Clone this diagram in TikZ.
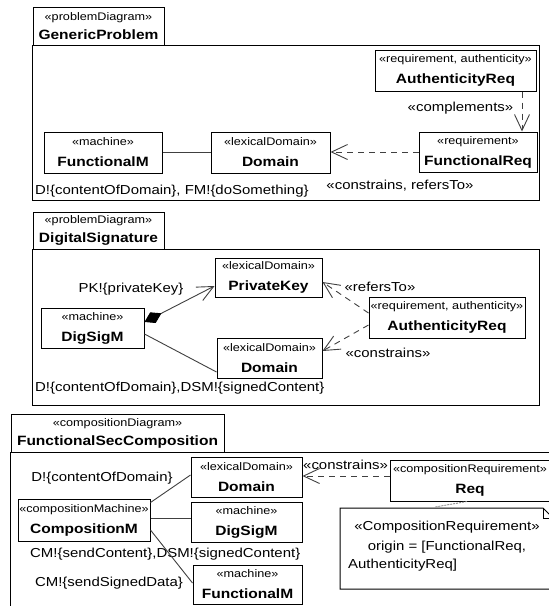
\documentclass[tikz,border=0pt]{standalone}
\usepackage{fontspec}
\setmainfont{Liberation Sans}[FakeStretch=1.15]
\usetikzlibrary{arrows.meta, positioning}

\newcommand{\uml}[2]{«#1»\\{\fontsize{13.5}{16}\selectfont\bfseries #2}}

\begin{document}
\begin{tikzpicture}[x=1pt, y=-1pt,
    box/.style={draw, fill=white, line width=1pt, minimum height=40pt, inner sep=1pt, align=center, font=\fontsize{11}{21}\selectfont},
    tab/.style={box, minimum height=38pt, font=\fontsize{11}{19}\selectfont},
    lbl/.style={inner sep=0pt, font=\fontsize{13}{15}\selectfont},
    assoc/.style={draw=black!75, line width=0.9pt},
    dep/.style={draw=black!75, line width=0.9pt, dash pattern=on 6pt off 5pt, -{Straight Barb[length=16pt, width=15pt]}}]
  \useasboundingbox (0,0) rectangle (549,606);
  \clip (0,0) rectangle (549,606);
  \fill[white] (0,0) rectangle (549,606);

  % GenericProblem
  \draw (98.5,26) node[tab, minimum width=131pt] (tab1) {\uml{problemDiagram}{GenericProblem}};
  \draw[line width=1pt] (tab1.south west) rectangle (539,200);
  \draw (455.5,70.5) node[box, minimum width=161pt, minimum height=41pt] (auth1) {\uml{requirement, authenticity}{AuthenticityReq}};
  \draw (478,152) node[box, minimum width=118pt] (freq) {\uml{requirement}{FunctionalReq}};
  \draw (270.5,152.5) node[box, minimum width=119pt, minimum height=41pt] (dom1) {\uml{lexicalDomain}{Domain}};
  \draw (103,152.5) node[box, minimum width=118pt, minimum height=41pt] (fm1) {\uml{machine}{FunctionalM}};
  \draw (35,191) node[lbl, anchor=west] (ph1) {D!\{contentOfDomain\}, FM!\{doSomething\}};
  \draw (400,186) node[lbl] (cr1) {«constrains, refersTo»};
  \draw (460.5,108) node[lbl] (cp1) {«complements»};
  \draw[dep] ([xshift=66.5pt]auth1.south) -- ([xshift=66.5pt]auth1.south |- freq.north);
  \draw[dep] (freq.west) -- (freq.west -| dom1.east);
  \draw[assoc] (fm1) -- (dom1);

  % DigitalSignature
  \draw (98.5,230.5) node[tab, minimum width=131pt, minimum height=37pt] (tab2) {\uml{problemDiagram}{DigitalSignature}};
  \draw[line width=1pt] (tab2.south west) rectangle (539,405);
  \draw (268.5,277.5) node[box, minimum width=107pt, minimum height=39pt] (pkey) {\uml{lexicalDomain}{PrivateKey}};
  \draw (92.5,328) node[box, minimum width=103pt] (dss) {\uml{machine}{DigSigM}};
  \draw (269.5,358) node[box, minimum width=105pt] (dom2) {\uml{lexicalDomain}{Domain}};
  \draw (447,317.5) node[box, minimum width=156pt, minimum height=41pt] (auth2) {\uml{requirement, authenticity}{AuthenticityReq}};
  \draw (131,289) node[lbl] (pk2) {PK!\{privateKey\}};
  \draw (380,287) node[lbl] (rf2) {«refersTo»};
  \draw (388,353) node[lbl] (cs2) {«constrains»};
  \draw (35,388) node[lbl, anchor=west] (ph2) {D!\{contentOfDomain\},DSM!\{signedContent\}};
  \draw[assoc, {Diamond[length=19pt, width=12pt, color=black]}-{Straight Barb[length=16pt, width=15pt]}] ([yshift=6pt]dss.east) -- ([yshift=-8.5pt]pkey.west);
  \draw[assoc] ([yshift=-6pt]dss.east) -- ([yshift=-14pt]dom2.west);
  \draw[dep] ([yshift=4.5pt]auth2.west) -- ([yshift=-4.5pt]pkey.east);
  \draw[dep] ([yshift=-7.5pt]auth2.west) -- ([yshift=7pt]dom2.east);

  % FunctionalSecComposition
  \draw (117.5,433) node[tab, minimum width=213pt] (tab3) {\uml{compositionDiagram}{FunctionalSecComposition}};
  \draw[line width=1pt] (tab3.south west) rectangle (600,650);
  \draw (246.5,477) node[box, minimum width=111pt] (dom3) {\uml{lexicalDomain}{Domain}};
  \draw (246.5,522) node[box, minimum width=111pt] (dss3) {\uml{machine}{DigSigM}};
  \draw (247.5,584.5) node[box, minimum width=109pt, minimum height=39pt] (fm3) {\uml{machine}{FunctionalM}};
  \draw (84,520) node[box, minimum width=132pt, minimum height=42pt] (cm) {\uml{compositionMachine}{CompositionM}};
  \draw (102,478) node[lbl] (ph3) {D!\{contentOfDomain\}};
  \draw (30,554) node[lbl, anchor=west] (ph4) {CM!\{sendContent\},DSM!\{signedContent\}};
  \draw (109,583) node[lbl] (ph5) {CM!\{sendSignedData\}};
  \draw (303,465) node[lbl, anchor=west] (cs3) {«constrains»};
  \draw (470,480.5) node[box, minimum width=160pt, minimum height=41pt] (req) {\uml{compositionRequirement}{Req}};
  \draw[assoc] ([yshift=-4pt]cm.north east) -- ([yshift=2pt]dom3.west);
  \draw[assoc] ([yshift=2pt]cm.east) -- ([yshift=2pt]cm.east -| dss3.west);
  \draw[assoc] ([yshift=-10pt]cm.east) -- ([yshift=1.5pt]fm3.west);
  \draw[dep] ([yshift=4.5pt]req.west) -- ([yshift=4.5pt]req.west -| dom3.east);

  % note
  \draw[line width=1pt, fill=white] (340,508) -- (543,508) -- (553,518) -- (553,589) -- (340,589) -- cycle;
  \draw[line width=0.8pt] (543,508) -- (543,518) -- (553,518);
  \coordinate (notetop) at (435,507);
  \draw[gray, line width=0.8pt, dash pattern=on 2pt off 1pt] ([xshift=-3pt]req.south) -- (notetop);
  \draw (447,537) node[lbl, align=center, font=\fontsize{13}{20}\selectfont] (nt1) {«CompositionRequirement»\\origin = [FunctionalReq,};
  \draw (348,565) node[lbl, anchor=west] (nt2) {AuthenticityReq]};
\end{tikzpicture}
\end{document}
